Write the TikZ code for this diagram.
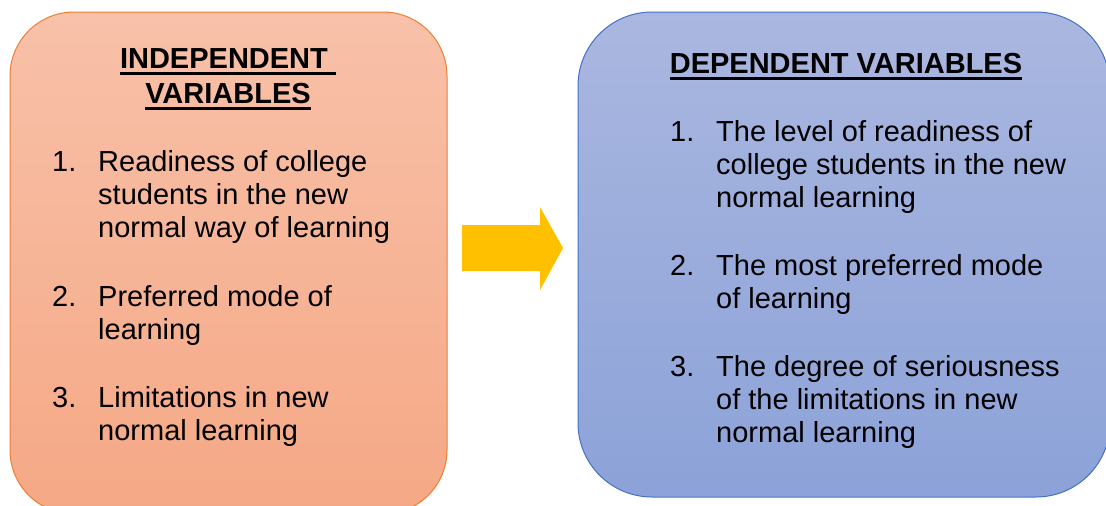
\documentclass[tikz,border=0pt]{standalone}
\usepackage{fontspec}
\setmainfont{Liberation Sans}

\definecolor{indtop}{RGB}{248,193,169}
\definecolor{indbot}{RGB}{245,168,133}
\definecolor{indline}{RGB}{237,125,49}
\definecolor{deptop}{RGB}{170,183,224}
\definecolor{depbot}{RGB}{140,162,216}
\definecolor{depline}{RGB}{68,114,196}
\definecolor{arrowfill}{RGB}{255,192,0}

% thick underline for the headings
\newcommand\ulhead[1]{\setbox0\hbox{#1}\rlap{\rule[-6.6pt]{\wd0}{3pt}}\box0}

\begin{document}
\begin{tikzpicture}[x=1pt, y=-1pt,
    varbox/.style={line width=1pt},
    headtext/.style={font=\fontsize{29}{35}\selectfont\bfseries, align=center, anchor=base, inner sep=0pt},
    numtext/.style={font=\fontsize{29}{33}\selectfont, anchor=base west, inner sep=0pt},
    itemtext/.style={font=\fontsize{29}{33}\selectfont, align=left, anchor=base west, inner sep=0pt}]
    \useasboundingbox (0,0) rectangle (1106,506);

    % independent variables (base = last line)
    \shade[draw=indline, top color=indtop, bottom color=indbot, rounded corners=64pt, varbox] (10,12) rectangle (447,514);
    \node[headtext] (indhead) at (228,103) {\ulhead{INDEPENDENT\ }\\\ulhead{VARIABLES}};
    \node[numtext] (indn1) at (52,171) {1.};
    \node[itemtext] (indt1) at (98,237) {Readiness of college\\students in the new\\normal way of learning};
    \node[numtext] (indn2) at (52,306) {2.};
    \node[itemtext] (indt2) at (98,339) {Preferred mode of\\learning};
    \node[numtext] (indn3) at (52,407) {3.};
    \node[itemtext] (indt3) at (98,440) {Limitations in new\\normal learning};

    % dependent variables
    \shade[draw=depline, top color=deptop, bottom color=depbot, rounded corners=74pt, varbox] (578,12) rectangle (1110,497);
    \node[headtext] (dephead) at (846,73) {\ulhead{DEPENDENT VARIABLES}};
    \node[numtext] (depn1) at (670,141) {1.};
    \node[itemtext] (dept1) at (716,207) {The level of readiness of\\college students in the new\\normal learning};
    \node[numtext] (depn2) at (670,275) {2.};
    \node[itemtext] (dept2) at (716,308) {The most preferred mode\\of learning};
    \node[numtext] (depn3) at (670,376) {3.};
    \node[itemtext] (dept3) at (716,442) {The degree of seriousness\\of the limitations in new\\normal learning};

    % block arrow
    \fill[arrowfill] (462,225) -- (540,225) -- (540,207) -- (563,248) -- (540,290) -- (540,271) -- (462,271) -- cycle;
\end{tikzpicture}
\end{document}
